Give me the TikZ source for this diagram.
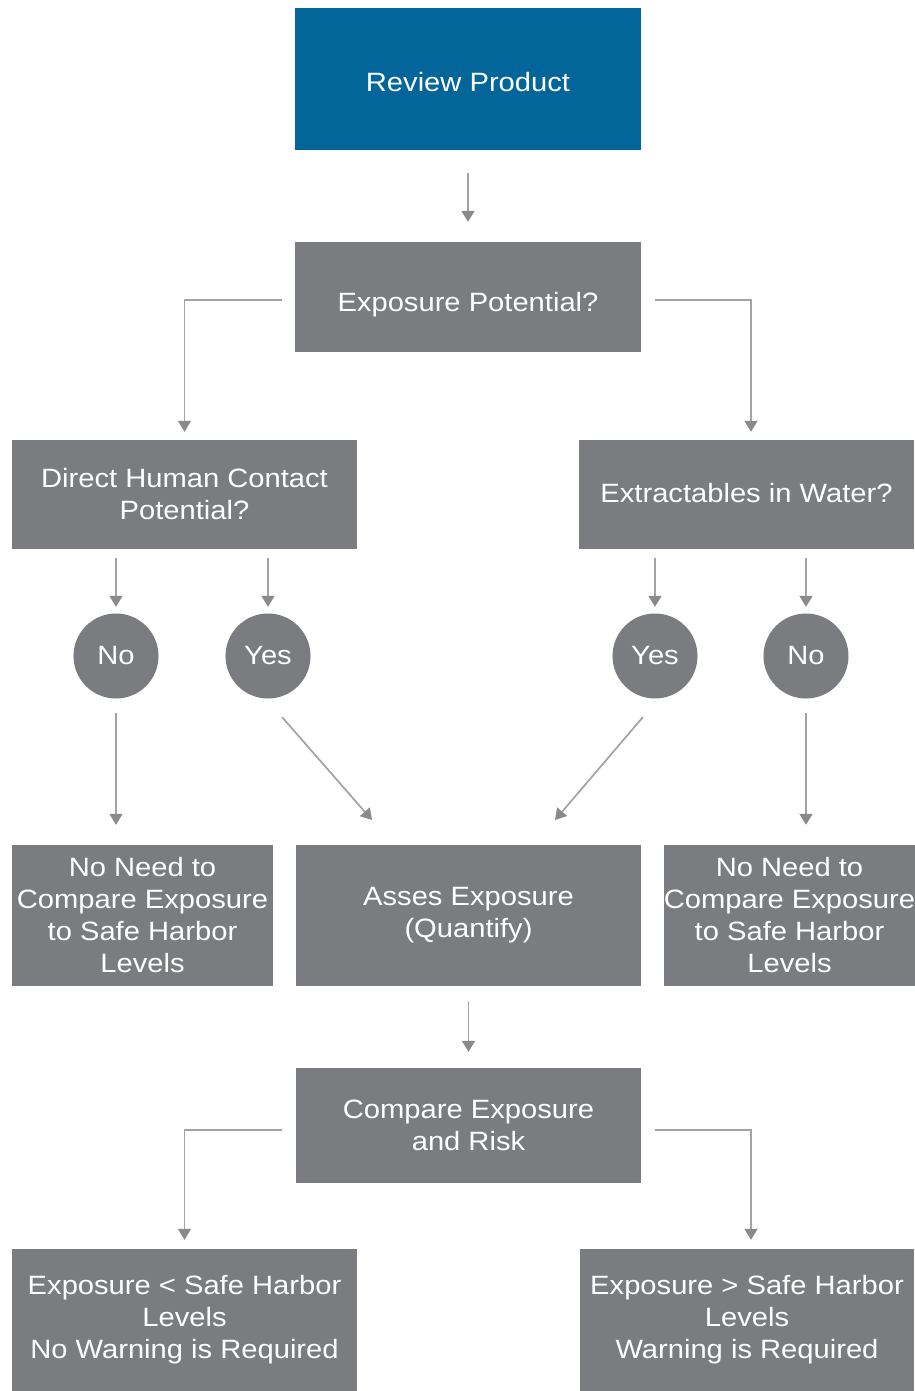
\documentclass[tikz,border=0pt]{standalone}
\usepackage{fontspec}
\setmainfont{Liberation Sans}[FakeStretch=1.1]
\usetikzlibrary{arrows.meta,calc}
\definecolor{boxblue}{HTML}{03659A}
\definecolor{boxgrey}{HTML}{7B7C80}
\definecolor{linegrey}{HTML}{A3A3A3}
\definecolor{tipgrey}{HTML}{8A8A8A}
\begin{document}
\begin{tikzpicture}[x=1pt,y=-1pt,
  every node/.style={font=\fontsize{26.5}{32}\selectfont, text=white, align=center, inner sep=0pt},
  gbox/.style={rectangle, fill=boxgrey, draw=none},
  bbox/.style={rectangle, fill=boxblue, draw=none},
  circ/.style={circle, fill=boxgrey, minimum size=85pt},
  arr/.style={draw=linegrey, line width=1.7pt, -{Triangle[width=13pt,length=11pt,color=tipgrey]}}
]
\fill[white] (0,0) rectangle (914,1391);
\useasboundingbox (0,0) rectangle (914,1391);

\node[bbox, minimum width=346pt, minimum height=142pt, text height=25pt, text depth=0pt] (rp) at (468,79) {Review Product};
\node[gbox, minimum width=346pt, minimum height=110pt, text height=29pt, text depth=0pt] (ep) at (468,297) {Exposure Potential?};
\node[gbox, minimum width=345pt, minimum height=109pt] (dh) at (184.5,494.5) {Direct Human Contact\\Potential?};
\node[gbox, minimum width=335pt, minimum height=109pt, text height=16pt, text depth=0pt] (ew) at (746.5,494.5) {Extractables in Water?};

\node[circ] (c1) at (116,656) {No};
\node[circ] (c2) at (268,656) {Yes};
\node[circ] (c3) at (655,656) {Yes};
\node[circ] (c4) at (806,656) {No};

\node[gbox, minimum width=261pt, minimum height=141pt] (n1) at (142.5,915.5) {No Need to\\Compare Exposure\\to Safe Harbor\\Levels};
\node[gbox, minimum width=345pt, minimum height=141pt] (ae) at (468.5,915.5) {Asses Exposure\\(Quantify)};
\node[gbox, minimum width=249pt, minimum height=141pt] (n2) at (789.5,915.5) {No Need to\\Compare Exposure\\to Safe Harbor\\Levels};

\node[gbox, minimum width=345pt, minimum height=115pt] (ce) at (468.5,1125.5) {Compare Exposure\\and Risk};

\node[gbox, minimum width=345pt, minimum height=142pt] (lw) at (184.5,1320) {Exposure < Safe Harbor\\Levels\\No Warning is Required};
\node[gbox, minimum width=334pt, minimum height=142pt] (rw) at (747,1320) {Exposure > Safe Harbor\\Levels\\Warning is Required};

% connectors
\draw[arr, shorten <=23pt, shorten >=20pt] (rp) -- (ep);
\draw[arr, shorten >=8pt] ([xshift=-13pt,yshift=-3pt]ep.west) -| (dh.north);
\draw[arr, shorten >=8pt] ([xshift=14pt,yshift=-3pt]ep.east) -| ([xshift=4.5pt]ew.north);

\draw[arr, shorten <=9pt, shorten >=6.5pt] (dh.south -| c1) -- (c1.north);
\draw[arr, shorten <=9pt, shorten >=6.5pt] (dh.south -| c2) -- (c2.north);
\draw[arr, shorten <=9pt, shorten >=6.5pt] (ew.south -| c3) -- (c3.north);
\draw[arr, shorten <=9pt, shorten >=6.5pt] (ew.south -| c4) -- (c4.north);

\draw[arr, shorten <=14.5pt, shorten >=20pt] (c1.south) -- (c1.south |- n1.north);
\draw[arr, shorten <=14.5pt, shorten >=20pt] (c4.south) -- (c4.south |- n2.north);
\draw[arr] ($(c2)+(14,61)$) -- ($(c2)+(104,164)$);
\draw[arr] ($(c3)+(-12,61)$) -- ($(c3)+(-100,164)$);

\draw[arr, shorten <=15pt, shorten >=16pt] (ae) -- (ce);
\draw[arr, shorten >=9pt] ([xshift=-14pt,yshift=-4.5pt]ce.west) -| (lw.north);
\draw[arr, shorten >=9pt] ([xshift=14pt,yshift=-4.5pt]ce.east) -| ([xshift=4pt]rw.north);
\end{tikzpicture}
\end{document}
